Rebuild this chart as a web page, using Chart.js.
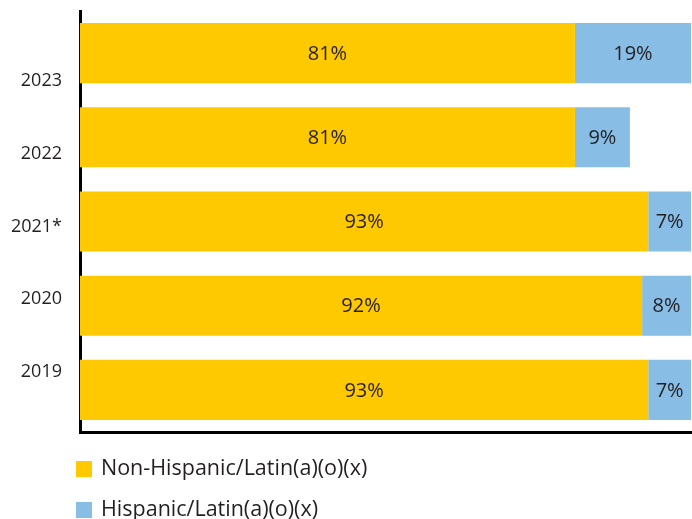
<!DOCTYPE html>
<html>
<head>
<meta charset="utf-8">
<script src="https://cdn.jsdelivr.net/npm/chart.js@4"></script>
<style>
  html, body { margin: 0; padding: 0; background: #fff; }
  #wrap { width: 692px; height: 519px; }
</style>
</head>
<body>
<div id="wrap"><canvas id="chart"></canvas></div>
<script>
// anos (de cima para baixo) e percentuais por grupo
const years = ['2023', '2022', '2021*', '2020', '2019'];
const nonHispanic = [81, 81, 93, 92, 93];
const hispanic = [19, 9, 7, 8, 7];
const seriesNames = ['Non-Hispanic/Latin(a)(o)(x)', 'Hispanic/Latin(a)(o)(x)'];

const YELLOW = '#FFC900';
const BLUE = '#88BDE6';
const INK = '#231F20';
const FONT = "'Open Sans', sans-serif";

// rótulos de percentual no meio de cada segmento
const valueLabels = {
  id: 'valueLabels',
  afterDatasetsDraw(chart) {
    const { ctx } = chart;
    ctx.save();
    ctx.font = `20px ${FONT}`;
    ctx.fillStyle = INK;
    ctx.textAlign = 'center';
    ctx.textBaseline = 'middle';
    chart.data.datasets.forEach((ds, di) => {
      chart.getDatasetMeta(di).data.forEach((bar, i) => {
        const cx = (bar.x + bar.base) / 2;
        ctx.fillText(`${ds.data[i]}%`, cx, bar.y + 1);
      });
    });
    ctx.restore();
  }
};

// anos à esquerda, um pouco mais juntos que as barras
const yearLabels = {
  id: 'yearLabels',
  afterDraw(chart) {
    const { ctx, chartArea } = chart;
    const yScale = chart.scales.y;
    const mid = (chartArea.top + chartArea.bottom) / 2;
    const spread = 0.863;
    ctx.save();
    ctx.font = `18px ${FONT}`;
    ctx.fillStyle = INK;
    ctx.textAlign = 'right';
    ctx.textBaseline = 'middle';
    years.forEach((y, i) => {
      const py = mid + (yScale.getPixelForValue(i) - mid) * spread + 5;
      ctx.fillText(y, chartArea.left - 18, py);
    });
    ctx.restore();
  }
};

// legenda vertical abaixo do gráfico
const stackedLegend = {
  id: 'stackedLegend',
  afterDraw(chart) {
    const { ctx, chartArea } = chart;
    ctx.save();
    ctx.font = `21.5px ${FONT}`;
    ctx.textBaseline = 'middle';
    chart.data.datasets.forEach((ds, i) => {
      const top = chartArea.bottom + 29 + i * 41;
      ctx.fillStyle = ds.backgroundColor;
      ctx.fillRect(chartArea.left - 4, top, 16, 16);
      ctx.fillStyle = INK;
      ctx.fillText(ds.label, chartArea.left + 21, top + 8);
    });
    ctx.restore();
  }
};

new Chart(document.getElementById('chart'), {
  type: 'bar',
  data: {
    labels: years,
    datasets: [
      { label: seriesNames[0], data: nonHispanic, backgroundColor: YELLOW },
      { label: seriesNames[1], data: hispanic, backgroundColor: BLUE }
    ]
  },
  options: {
    indexAxis: 'y',
    responsive: true,
    maintainAspectRatio: false,
    animation: false,
    layout: { padding: { left: 80, right: 1, top: 11, bottom: 87 } },
    datasets: { bar: { barPercentage: 1, categoryPercentage: 0.714, borderWidth: 0 } },
    scales: {
      x: {
        stacked: true,
        min: 0,
        max: 100,
        grid: { display: false, drawTicks: false },
        ticks: { display: false },
        border: { display: true, color: '#000', width: 3 }
      },
      y: {
        stacked: true,
        grid: { display: false, drawTicks: false },
        ticks: { display: false },
        border: { display: true, color: '#000', width: 3 }
      }
    },
    plugins: {
      legend: { display: false },
      tooltip: { enabled: false }
    }
  },
  plugins: [valueLabels, yearLabels, stackedLegend]
});
</script>
</body>
</html>
